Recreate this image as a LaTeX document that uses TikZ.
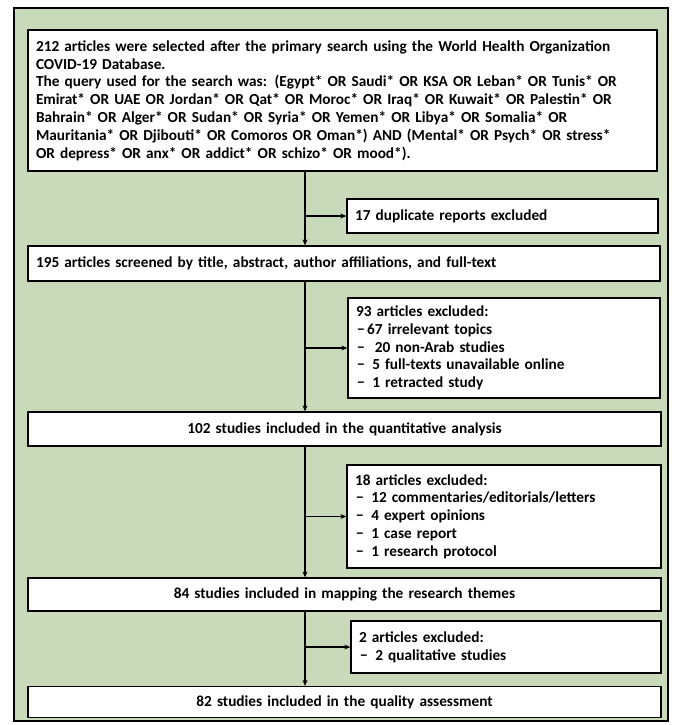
\documentclass[tikz,border=0pt]{standalone}
\usepackage{fontspec}
\setmainfont{Carlito}
\usetikzlibrary{arrows.meta}
\definecolor{bggreen}{RGB}{201,218,186}
\tikzset{
  box/.style={draw=black, line width=1.3pt, fill=white, inner xsep=8pt, inner ysep=0pt, anchor=center,
    font=\fontsize{15.3}{17.8}\selectfont\bfseries},
  flow/.style={line width=1.1pt, -{Stealth[length=6pt,width=5pt]}}
}
\begin{document}
\begin{tikzpicture}[x=1pt,y=-1pt]
\useasboundingbox (0,0) rectangle (675,725);
\draw[line width=1.5pt, fill=bggreen] (14,8) rectangle (668,721);

\node[box, minimum width=629pt, minimum height=141pt, text width=613pt, align=left] (b1) at (342.5,100.5)
{212 articles were selected after the primary search using the World Health Organization\\
COVID-19 Database.\\
The query used for the search was: (Egypt* OR Saudi* OR KSA OR Leban* OR Tunis* OR\\
Emirat* OR UAE OR Jordan* OR Qat* OR Moroc* OR Iraq* OR Kuwait* OR Palestin* OR\\
Bahrain* OR Alger* OR Sudan* OR Syria* OR Yemen* OR Libya* OR Somalia* OR\\
Mauritania* OR Djibouti* OR Comoros OR Oman*) AND (Mental* OR Psych* OR stress*\\
OR depress* OR anx* OR addict* OR schizo* OR mood*).};

\node[box, minimum width=311pt, minimum height=34pt, text width=295pt, align=left] (b17) at (502.5,216)
{17 duplicate reports excluded};

\node[box, minimum width=632pt, minimum height=35pt, text width=616pt, align=left] (b195) at (344,263.5)
{195 articles screened by title, abstract, author affiliations, and full-text};

\node[box, minimum width=312pt, minimum height=100pt, text width=296pt, align=left] (b93) at (504,348)
{93 articles excluded:\\
\hspace*{1pt}−\,67 irrelevant topics\\
\hspace*{1pt}−\ \ 20 non-Arab studies\\
\hspace*{1pt}−\ \,5 full-texts unavailable online\\
\hspace*{1pt}−\ \,1 retracted study};

\node[box, minimum width=633pt, minimum height=34pt, text width=617pt, align=center] (b102) at (344.5,429)
{102 studies included in the quantitative analysis};

\node[box, minimum width=314pt, minimum height=103pt, text width=298pt, align=left] (b18) at (504,516.5)
{18 articles excluded:\\
\hspace*{1pt}−\ \,12 commentaries/editorials/letters\\
\hspace*{1pt}−\ \,4 expert opinions\\
\hspace*{1pt}−\ \,1 case report\\
\hspace*{1pt}−\ \,1 research protocol};

\node[box, minimum width=633pt, minimum height=33pt, text width=617pt, align=center] (b84) at (344.5,594.5)
{84 studies included in mapping the research themes};

\node[box, minimum width=310pt, minimum height=52pt, text width=294pt, align=left] (b2) at (506,647)
{2 articles excluded:\\
\hspace*{1pt}−\ \,2 qualitative studies};

\node[box, minimum width=633pt, minimum height=31pt, text width=617pt, align=center] (b82) at (344.5,702)
{82 studies included in the quality assessment};

% trunk line
\coordinate (t1) at (305,0);
\draw[flow] (b1.south -| t1) -- (b195.north -| t1);
\draw[flow] (b195.south -| t1) -- (b102.north -| t1);
\draw[flow] (b102.south -| t1) -- (b84.north -| t1);
\draw[flow] (b84.south -| t1) -- (b82.north -| t1);

\draw[flow] (b17.west -| t1) -- (b17.west);
\draw[flow] (b93.west -| t1) -- (b93.west);
\draw[flow] (b18.west -| t1) -- (b18.west);
\draw[flow] (b2.west -| t1) -- (b2.west);
\end{tikzpicture}
\end{document}
